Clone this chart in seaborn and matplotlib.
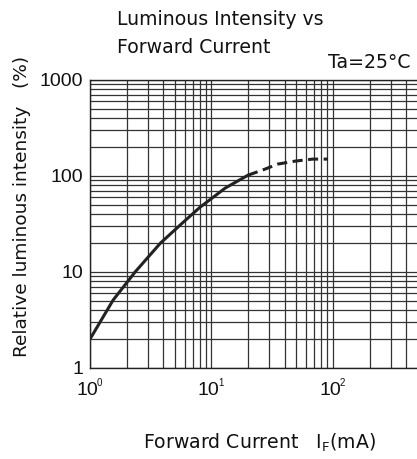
import matplotlib
matplotlib.use("Agg")
import matplotlib.pyplot as plt
import matplotlib.transforms as mtransforms
import seaborn as sns
import pandas as pd
from matplotlib.ticker import FixedLocator, NullFormatter, LogLocator

# ---- data ----
solid_current = [1, 1.55, 2.35, 3.8, 5.7, 8, 13, 20]
solid_intensity = [2, 5.1, 10, 20, 32, 47, 75, 102]
dashed_current = [20, 27.6, 35, 49, 68, 91]
dashed_intensity = [102, 118, 133, 143, 150, 150]

x_ticks = [1, 10, 100]
x_tick_base = ["10", "10", "10"]
x_tick_exponents = ["0", "1", "2"]
y_ticks = [1, 10, 100, 1000]
y_tick_labels = ["1", "10", "100", "1000"]

title_lines = ["Luminous Intensity vs", "Forward Current"]
condition_text = "Ta=25°C"
x_label = r"Forward Current   $\mathregular{I_F}$(mA)"
y_label = "Relative luminous intensity   (%)"

sns.set_style("white")
plt.rcParams["font.family"] = ["DejaVu Sans"]
plt.rcParams["mathtext.fontset"] = "dejavusans"

narrow = ["Liberation Sans Narrow", "Liberation Sans"]

W, H = 417, 459
fig = plt.figure(figsize=(W / 100, H / 100), dpi=100)
fig.patch.set_facecolor("white")

left_px, right_px = 90, 90 + 3 * 121.5
top_px, bottom_px = 80, 368
ax = fig.add_axes([left_px / W, (H - bottom_px) / H,
                   (right_px - left_px) / W, (bottom_px - top_px) / H])

solid_df = pd.DataFrame({"current": solid_current, "intensity": solid_intensity})
dashed_df = pd.DataFrame({"current": dashed_current, "intensity": dashed_intensity})

ax.set_xscale("log")
ax.set_yscale("log")

sns.lineplot(data=solid_df, x="current", y="intensity", ax=ax, sort=False,
             color="#222222", linewidth=2.2, zorder=5)
sns.lineplot(data=dashed_df, x="current", y="intensity", ax=ax, sort=False,
             color="#222222", linewidth=2.2, zorder=5)
ax.lines[-1].set_linestyle((0, (3.3, 1.8)))

ax.set_xlim(1, 1000)
ax.set_ylim(1, 1000)

ax.xaxis.set_major_locator(FixedLocator(x_ticks))
ax.set_xticklabels(x_tick_base)
ax.yaxis.set_major_locator(FixedLocator(y_ticks))
ax.set_yticklabels(y_tick_labels)
ax.xaxis.set_minor_locator(LogLocator(base=10, subs=range(2, 10)))
ax.yaxis.set_minor_locator(LogLocator(base=10, subs=range(2, 10)))
ax.xaxis.set_minor_formatter(NullFormatter())
ax.yaxis.set_minor_formatter(NullFormatter())

ax.grid(True, which="both", color="#333333", linewidth=0.9)
ax.tick_params(axis="both", which="both", length=0, labelsize=14, colors="#111111")
ax.tick_params(axis="x", pad=10)
ax.tick_params(axis="y", pad=5)
shift = mtransforms.ScaledTranslation(-3 / 100, 0, fig.dpi_scale_trans)
for lab in ax.get_xticklabels():
    lab.set_fontfamily(narrow)
    lab.set_transform(lab.get_transform() + shift)
for lab in ax.get_yticklabels():
    lab.set_fontfamily(narrow)

# small exponents of the x tick labels
for t, e in zip(x_ticks, x_tick_exponents):
    ax.annotate(e, xy=(t, 0), xycoords=ax.get_xaxis_transform(),
                xytext=(5, -7.5), textcoords="offset points",
                ha="left", va="top", fontsize=7, family=narrow, color="#111111")

for s in ["left", "bottom", "top"]:
    ax.spines[s].set_color("#222222")
    ax.spines[s].set_linewidth(1.0)
ax.spines["right"].set_visible(False)

ax.set_xlabel("")
ax.set_ylabel("")

fs = 13.6
fig.text(117 / W, 1 - 25 / H, title_lines[0], ha="left", va="baseline",
         fontsize=fs, color="#111111")
fig.text(117 / W, 1 - 53 / H, title_lines[1], ha="left", va="baseline",
         fontsize=fs, color="#111111")
fig.text(411 / W, 1 - 68 / H, condition_text, ha="right", va="baseline",
         fontsize=fs, color="#111111")
fig.text(143 / W, 1 - 449 / H, x_label, ha="left", va="baseline",
         fontsize=fs, color="#111111")
fig.text(22 / W, 1 - 357 / H, y_label, ha="center", va="bottom",
         rotation=90, fontsize=13.3, color="#111111")

fig.savefig("out.png", dpi=100)
